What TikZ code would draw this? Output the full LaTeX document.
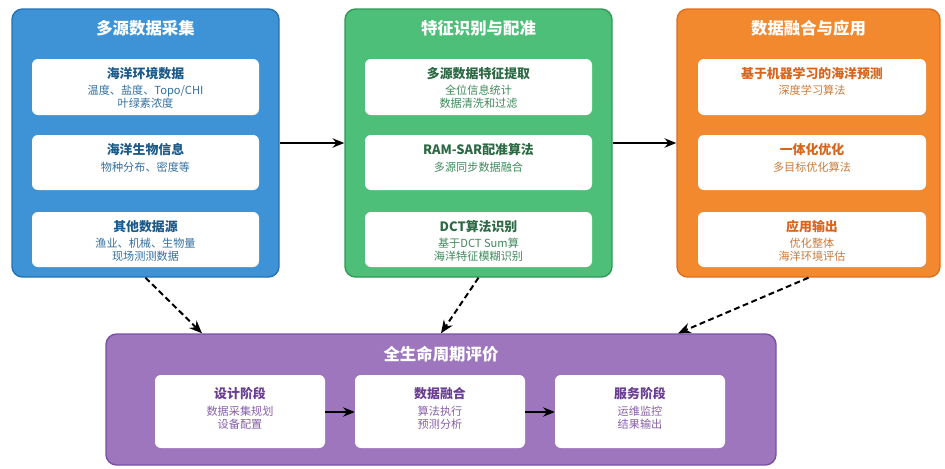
\documentclass[tikz,border=0pt]{standalone}
\usepackage{fontspec}
\setmainfont{Noto Sans CJK SC}
\usetikzlibrary{fit,calc,arrows.meta}
\definecolor{bfill}{HTML}{3D93D5}\definecolor{bline}{HTML}{2472B2}
\definecolor{gfill}{HTML}{4DBF78}\definecolor{gline}{HTML}{2F9A55}
\definecolor{ofill}{HTML}{F2892E}\definecolor{oline}{HTML}{DE6E1C}
\definecolor{pfill}{HTML}{9D76BD}\definecolor{pline}{HTML}{7A50A3}
\definecolor{btit}{HTML}{1C5A8A}\definecolor{bsub}{HTML}{3470A0}
\definecolor{gtit}{HTML}{2C6A44}\definecolor{gsub}{HTML}{3F8A5C}
\definecolor{otit}{HTML}{D8651C}\definecolor{osub}{HTML}{C97A3A}
\definecolor{ptit}{HTML}{6A3E92}\definecolor{psub}{HTML}{8760A8}
\begin{document}
\begin{tikzpicture}[x=0.03cm,y=-0.03cm,
  outer/.style={inner sep=0pt,rounded corners=9pt,line width=1.2pt},
  innerbox/.style={inner sep=0pt,rounded corners=5pt,fill=white},
  head/.style={text=white,font=\fontsize{14}{16}\selectfont\bfseries,inner sep=0pt},
  ttl/.style={font=\fontsize{11}{13}\selectfont\bfseries,inner sep=0pt},
  sub/.style={font=\fontsize{9.5}{11}\selectfont,align=center,inner sep=0pt,anchor=north},
  flow/.style={line width=1.3pt,-{Stealth[length=10pt,width=8pt]}},
  dashflow/.style={line width=1.7pt,dash pattern=on 5pt off 3pt,-{Stealth[length=11pt,width=9pt]}}]
\useasboundingbox (0,0) rectangle (945,468);

% outer boxes
\node[outer,fill=bfill,draw=bline,fit={(12,9) (279,277)}] (blue) {};
\node[outer,fill=gfill,draw=gline,fit={(345,9) (612,277)}] (green) {};
\node[outer,fill=ofill,draw=oline,fit={(677,9) (940,277)}] (orange) {};
\node[outer,fill=pfill,draw=pline,fit={(106,334) (776,465)}] (life) {};

\node[head] (bh) at ($(blue.north)+(0,20)$) {多源数据采集};
\node[head] (gh) at ($(green.north)+(0,20)$) {特征识别与配准};
\node[head] (oh) at ($(orange.north)+(0,20)$) {数据融合与应用};
\node[head] (ph) at ($(life.north)+(0,21)$) {全生命周期评价};

% blue inner
\node[innerbox,fit={(32,59) (259,115)}] (b1) {};
\node[innerbox,fit={(32,135) (259,190)}] (b2) {};
\node[innerbox,fit={(32,212) (259,267)}] (b3) {};
% green inner
\node[innerbox,fit={(365,59) (592,115)}] (g1) {};
\node[innerbox,fit={(365,135) (592,190)}] (g2) {};
\node[innerbox,fit={(365,212) (592,267)}] (g3) {};
% orange inner
\node[innerbox,fit={(698,59) (926,115)}] (o1) {};
\node[innerbox,fit={(698,135) (926,190)}] (o2) {};
\node[innerbox,fit={(698,212) (926,267)}] (o3) {};
% purple inner
\node[innerbox,fit={(155,375) (325,448)}] (p1) {};
\node[innerbox,fit={(355,375) (525,448)}] (p2) {};
\node[innerbox,fit={(555,375) (725,448)}] (p3) {};

% texts
\node[ttl,text=btit] (b1t) at ($(b1.north)+(0,14.5)$) {海洋环境数据};
\node[sub,text=bsub] (b1s) at ($(b1.north)+(0,26.5)$) {温度、盐度、Topo/CHI\\叶绿素浓度};
\node[ttl,text=btit] (b2t) at ($(b2.north)+(0,15)$) {海洋生物信息};
\node[sub,text=bsub] (b2s) at ($(b2.north)+(0,27)$) {物种分布、密度等};
\node[ttl,text=btit] (b3t) at ($(b3.north)+(0,14.5)$) {其他数据源};
\node[sub,text=bsub] (b3s) at ($(b3.north)+(0,26.5)$) {渔业、机械、生物量\\现场测测数据};

\node[ttl,text=gtit] (g1t) at ($(g1.north)+(0,14.5)$) {多源数据特征提取};
\node[sub,text=gsub] (g1s) at ($(g1.north)+(0,26.5)$) {全位信息统计\\数据清洗和过滤};
\node[ttl,text=gtit] (g2t) at ($(g2.north)+(0,15)$) {RAM-SAR配准算法};
\node[sub,text=gsub] (g2s) at ($(g2.north)+(0,27)$) {多源同步数据融合};
\node[ttl,text=gtit] (g3t) at ($(g3.north)+(0,14.5)$) {DCT算法识别};
\node[sub,text=gsub] (g3s) at ($(g3.north)+(0,26.5)$) {基于DCT Sum算\\海洋特征模糊识别};

\node[ttl,text=otit] (o1t) at ($(o1.north)+(0,14.5)$) {基于机器学习的海洋预测};
\node[sub,text=osub] (o1s) at ($(o1.north)+(0,26.5)$) {深度学习算法};
\node[ttl,text=otit] (o2t) at ($(o2.north)+(0,15)$) {一体化优化};
\node[sub,text=osub] (o2s) at ($(o2.north)+(0,27)$) {多目标优化算法};
\node[ttl,text=otit] (o3t) at ($(o3.north)+(0,14.5)$) {应用输出};
\node[sub,text=osub] (o3s) at ($(o3.north)+(0,26.5)$) {优化整体\\海洋环境评估};

\node[ttl,text=ptit] (p1t) at ($(p1.north)+(0,18.5)$) {设计阶段};
\node[sub,text=psub] (p1s) at ($(p1.north)+(0,31)$) {数据采集规划\\设备配置};
\node[ttl,text=ptit] (p2t) at ($(p2.north)+(0,18.5)$) {数据融合};
\node[sub,text=psub] (p2s) at ($(p2.north)+(0,31)$) {算法执行\\预测分析};
\node[ttl,text=ptit] (p3t) at ($(p3.north)+(0,18.5)$) {服务阶段};
\node[sub,text=psub] (p3s) at ($(p3.north)+(0,31)$) {运维监控\\结果输出};

% connectors
\draw[flow] (blue) -- (green);
\draw[flow] (green) -- (orange);
\draw[flow] (p1.east |- 0,412) -- (p2.west |- 0,412);
\draw[flow] (p2.east |- 0,412) -- (p3.west |- 0,412);
\draw[dashflow] (blue.south) -- ($(life.north)+(-239,0)$);
\draw[dashflow] (green.south) -- (life.north);
\draw[dashflow] (orange.south) -- ($(life.north)+(237,0)$);
\end{tikzpicture}
\end{document}
